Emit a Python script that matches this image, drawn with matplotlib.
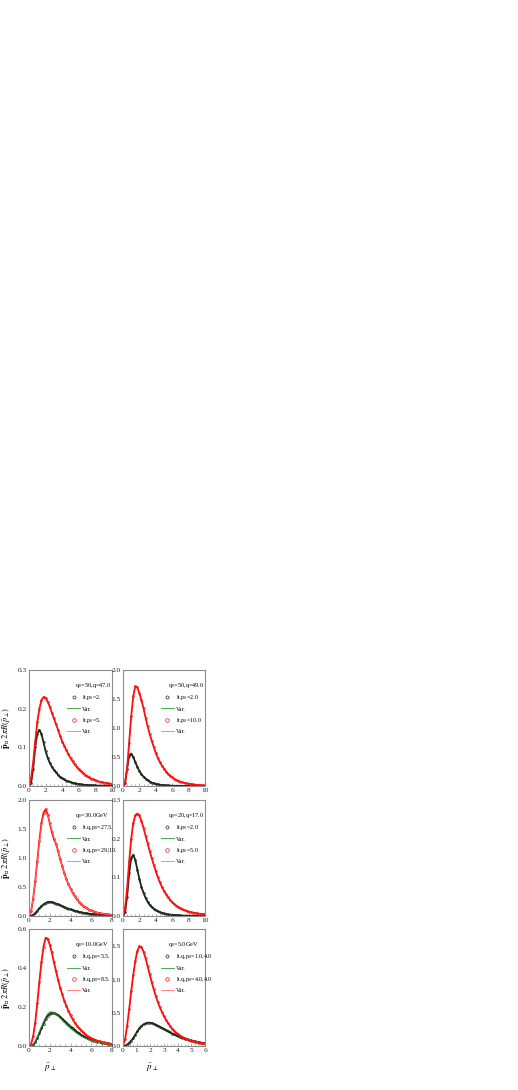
import numpy as np
import matplotlib
matplotlib.use('Agg')
import matplotlib.pyplot as plt
from matplotlib.lines import Line2D
from matplotlib.ticker import MultipleLocator, FormatStrFormatter

plt.rcParams['font.family'] = ['Liberation Serif', 'DejaVu Serif']
plt.rcParams['mathtext.fontset'] = 'stix'

x10 = np.linspace(0, 10, 41)
x8 = np.linspace(0, 8, 41)
x6 = np.linspace(0, 6, 41)

# panel a: q0=50, q=47.0
a_lo = [0, 0.008, 0.045, 0.10, 0.135, 0.145, 0.135, 0.113, 0.09, 0.073, 0.06, 0.05, 0.042, 0.035, 0.029,
        0.024, 0.02, 0.017, 0.014, 0.012, 0.01, 0.008, 0.007, 0.006, 0.005, 0.004, 0.0035, 0.003, 0.0025,
        0.002, 0.002, 0.0015, 0.0015, 0.001, 0.001, 0.001, 0.001, 0.0005, 0.0005, 0.0005, 0.0005]
a_hi = [0, 0.02, 0.06, 0.115, 0.165, 0.2, 0.222, 0.23, 0.228, 0.218, 0.205, 0.19, 0.175, 0.16, 0.145,
        0.13, 0.115, 0.104, 0.093, 0.082, 0.072, 0.064, 0.056, 0.049, 0.043, 0.038, 0.033, 0.029, 0.025,
        0.022, 0.019, 0.017, 0.015, 0.013, 0.011, 0.01, 0.009, 0.008, 0.007, 0.006, 0.005]

# panel b: q0=50, q=49.0
b_lo = [0, 0.05, 0.3, 0.52, 0.56, 0.5, 0.41, 0.33, 0.26, 0.2, 0.16, 0.125, 0.098, 0.077, 0.06, 0.047,
        0.037, 0.029, 0.023, 0.018, 0.014, 0.011, 0.009, 0.007, 0.005, 0.004, 0.003, 0.0025, 0.002,
        0.0015, 0.0015, 0.0015, 0.0015, 0.001, 0.001, 0.001, 0.001, 0.0005, 0.0005, 0.0005, 0.0005]
b_hi = [0, 0.05, 0.3, 0.75, 1.2, 1.55, 1.72, 1.7, 1.6, 1.48, 1.34, 1.18, 1.03, 0.9, 0.78, 0.67, 0.57,
        0.48, 0.41, 0.35, 0.3, 0.25, 0.21, 0.18, 0.15, 0.125, 0.105, 0.09, 0.075, 0.063, 0.053, 0.045,
        0.038, 0.032, 0.027, 0.023, 0.02, 0.017, 0.014, 0.012, 0.01]

# panel c: q0=30.0GeV
c_lo = [0, 0.005, 0.02, 0.05, 0.09, 0.13, 0.17, 0.2, 0.225, 0.24, 0.245, 0.24, 0.23, 0.215, 0.2, 0.185,
        0.17, 0.155, 0.14, 0.126, 0.113, 0.1, 0.09, 0.08, 0.071, 0.063, 0.056, 0.05, 0.044, 0.039, 0.034,
        0.03, 0.027, 0.024, 0.021, 0.018, 0.016, 0.014, 0.012, 0.011, 0.01]
c_hi = [0, 0.08, 0.3, 0.6, 0.95, 1.3, 1.6, 1.78, 1.84, 1.75, 1.6, 1.45, 1.33, 1.25, 1.12, 0.98, 0.86,
        0.74, 0.64, 0.55, 0.47, 0.4, 0.34, 0.29, 0.25, 0.21, 0.18, 0.155, 0.13, 0.11, 0.095, 0.08, 0.068,
        0.058, 0.05, 0.043, 0.037, 0.032, 0.027, 0.023, 0.02]
c_hi_var = [0, 0.08, 0.3, 0.6, 0.93, 1.27, 1.55, 1.72, 1.78, 1.74, 1.62, 1.48, 1.36, 1.26, 1.13, 0.98,
            0.86, 0.74, 0.64, 0.55, 0.47, 0.4, 0.34, 0.29, 0.25, 0.21, 0.18, 0.155, 0.13, 0.11, 0.095,
            0.08, 0.068, 0.058, 0.05, 0.043, 0.037, 0.032, 0.027, 0.023, 0.02]

# panel d: q0=20, q=17.0
d_lo = [0, 0.01, 0.05, 0.11, 0.15, 0.158, 0.145, 0.12, 0.095, 0.075, 0.06, 0.047, 0.037, 0.029, 0.023,
        0.019, 0.015, 0.012, 0.01, 0.008, 0.0065, 0.005, 0.004, 0.0035, 0.003, 0.0025, 0.002, 0.0018,
        0.0015, 0.0012, 0.001, 0.001, 0.0008, 0.0007, 0.0006, 0.0005, 0.0005, 0.0004, 0.0004, 0.0004, 0.0004]
d_hi = [0, 0.02, 0.07, 0.14, 0.2, 0.24, 0.26, 0.265, 0.26, 0.245, 0.228, 0.208, 0.188, 0.168, 0.15,
        0.132, 0.116, 0.1, 0.087, 0.075, 0.065, 0.056, 0.048, 0.042, 0.036, 0.031, 0.027, 0.023, 0.02,
        0.017, 0.015, 0.013, 0.0115, 0.01, 0.009, 0.008, 0.007, 0.006, 0.0055, 0.005, 0.0045]

# panel e: q0=10.0GeV
e_lo = [0, 0, 0.005, 0.02, 0.04, 0.065, 0.09, 0.115, 0.138, 0.155, 0.165, 0.17, 0.17, 0.165, 0.158, 0.15,
        0.14, 0.13, 0.12, 0.11, 0.1, 0.09, 0.081, 0.073, 0.065, 0.058, 0.052, 0.046, 0.041, 0.036, 0.032,
        0.028, 0.025, 0.022, 0.02, 0.017, 0.015, 0.013, 0.012, 0.011, 0.01]
e_lo_var = [0, 0, 0.008, 0.025, 0.047, 0.075, 0.1, 0.125, 0.148, 0.165, 0.175, 0.175, 0.17, 0.163, 0.153,
            0.143, 0.132, 0.121, 0.11, 0.1, 0.09, 0.081, 0.073, 0.065, 0.058, 0.052, 0.046, 0.041, 0.036,
            0.032, 0.028, 0.025, 0.022, 0.02, 0.018, 0.016, 0.014, 0.012, 0.011, 0.01, 0.009]
e_hi = [0, 0.01, 0.05, 0.12, 0.22, 0.33, 0.43, 0.51, 0.555, 0.55, 0.52, 0.48, 0.43, 0.385, 0.34, 0.3,
        0.265, 0.233, 0.205, 0.18, 0.158, 0.138, 0.12, 0.105, 0.092, 0.08, 0.07, 0.061, 0.053, 0.046, 0.04,
        0.035, 0.031, 0.027, 0.024, 0.021, 0.018, 0.016, 0.014, 0.012, 0.011]

# panel f: q0=5.0GeV
f_lo = [0, 0.005, 0.02, 0.045, 0.08, 0.12, 0.17, 0.22, 0.265, 0.3, 0.325, 0.34, 0.35, 0.35, 0.345, 0.335,
        0.32, 0.305, 0.29, 0.272, 0.255, 0.238, 0.22, 0.204, 0.188, 0.173, 0.158, 0.145, 0.133, 0.121, 0.11,
        0.1, 0.091, 0.083, 0.075, 0.068, 0.062, 0.056, 0.051, 0.046, 0.042]
f_hi = [0, 0.1, 0.3, 0.55, 0.82, 1.07, 1.28, 1.43, 1.5, 1.49, 1.42, 1.32, 1.2, 1.08, 0.96, 0.85, 0.75,
        0.66, 0.58, 0.51, 0.45, 0.39, 0.34, 0.3, 0.26, 0.23, 0.2, 0.175, 0.155, 0.135, 0.12, 0.105, 0.092,
        0.082, 0.073, 0.065, 0.058, 0.052, 0.046, 0.041, 0.037]

panels = [
    dict(x=x10, lo=a_lo, hi=a_hi, xmax=10, ymax=0.3, ystep=0.1, title='q$_0$=50,q=47.0',
         labels=['lt.p$_0$=2.', 'lt.p$_0$=5.']),
    dict(x=x10, lo=b_lo, hi=b_hi, xmax=10, ymax=2.0, ystep=0.5, title='q$_0$=50,q=49.0',
         labels=['lt.p$_0$=2.0', 'lt.p$_0$=10.0']),
    dict(x=x8, lo=c_lo, hi=c_hi, hi_var=c_hi_var, xmax=8, ymax=2.0, ystep=0.5, title='q$_0$=30.0GeV',
         labels=['lt.q,p$_0$=27.5.', 'lt.q,p$_0$=29.|10.']),
    dict(x=x10, lo=d_lo, hi=d_hi, xmax=10, ymax=0.3, ystep=0.1, title='q$_0$=20,q=17.0',
         labels=['lt.p$_0$=2.0', 'lt.p$_0$=5.0']),
    dict(x=x8, lo=e_lo, lo_var=e_lo_var, hi=e_hi, xmax=8, ymax=0.6, ystep=0.2, title='q$_0$=10.0GeV',
         labels=['lt.q,p$_0$=5.5.', 'lt.q,p$_0$=8.5.']),
    dict(x=x6, lo=f_lo, hi=f_hi, xmax=6, ymax=1.76, ystep=0.5, title='q$_0$=5.0GeV',
         labels=['lt.q,p$_0$=1.0,4.0', 'lt.q,p$_0$=4.0,4.0']),
]

W, H = 518, 1090
fig = plt.figure(figsize=(W / 100, H / 100), dpi=100)

col_x = [29, 123]
col_w = [83, 82]
row_top = [670, 800, 929]
row_h = [116, 116, 117]

dark = '#1c2a1c'
green = '#2e9e2e'
red = '#ff1010'
pink = '#ff7070'
spine = '#8c8c8c'

for i, p in enumerate(panels):
    r, c = divmod(i, 2)
    ax = fig.add_axes([col_x[c] / W, (H - row_top[r] - row_h[r]) / H, col_w[c] / W, row_h[r] / H])
    x = p['x']
    # lattice points: thick band of small open circles
    ax.plot(x, p['lo'], color=dark, lw=1.3, marker='o', ms=1.3, mfc='none', mec=dark, mew=0.5, zorder=2)
    ax.plot(x, p['hi'], color=red, lw=1.3, marker='o', ms=1.3, mfc='none', mec=red, mew=0.5, zorder=2)
    # variational curves
    ax.plot(x, p.get('lo_var', p['lo']), color=green, lw=0.6, zorder=3 if 'lo_var' in p else 1)
    ax.plot(x, p.get('hi_var', p['hi']), color=pink, lw=0.6, zorder=3 if 'hi_var' in p else 1)

    ax.set_xlim(0, p['xmax'])
    ax.set_ylim(0, p['ymax'])
    ax.xaxis.set_major_locator(MultipleLocator(1 if p['xmax'] == 6 else 2))
    ax.xaxis.set_minor_locator(MultipleLocator(0.5 if p['xmax'] != 6 else 0.25))
    ax.yaxis.set_major_locator(MultipleLocator(p['ystep']))
    ax.yaxis.set_major_formatter(FormatStrFormatter('%.1f'))
    ax.tick_params(which='both', direction='in', color='#999999', labelsize=5.3, pad=1.5,
                   labelcolor='#222222', width=0.5)
    ax.tick_params(which='major', length=2.5)
    ax.tick_params(which='minor', length=1.5)
    ax.tick_params(axis='y', which='both', left=False)
    for s in ax.spines.values():
        s.set_color(spine)
        s.set_linewidth(0.8)

    ax.text(0.55, 0.87, p['title'], transform=ax.transAxes, fontsize=4.5, va='center')
    handles = [
        Line2D([], [], ls='none', marker='o', ms=2.2, mfc='none', mec=dark, mew=0.5),
        Line2D([], [], color=green, lw=0.6),
        Line2D([], [], ls='none', marker='o', ms=2.6, mfc='none', mec=red, mew=0.5),
        Line2D([], [], color=pink, lw=0.6),
    ]
    ax.legend(handles, [p['labels'][0], 'Var.', p['labels'][1], 'Var.'],
              loc='upper left', bbox_to_anchor=(0.46, 0.80), fontsize=4.3, frameon=False,
              handlelength=2.2, handletextpad=0.3, labelspacing=0.7, borderpad=0, borderaxespad=0)

    if c == 0:
        ax.set_ylabel(r'$\mathbf{\tilde{p}_\perp}\,2\pi\tilde{R}(\tilde{p}_\perp)$', fontsize=6, labelpad=3)
    if r == 2:
        ax.set_xlabel(r'$\tilde{p}_\perp$', fontsize=6.5)
        ax.xaxis.set_label_coords(0.25 if c == 0 else 0.35, -0.13)

fig.savefig('out.png', dpi=100)
